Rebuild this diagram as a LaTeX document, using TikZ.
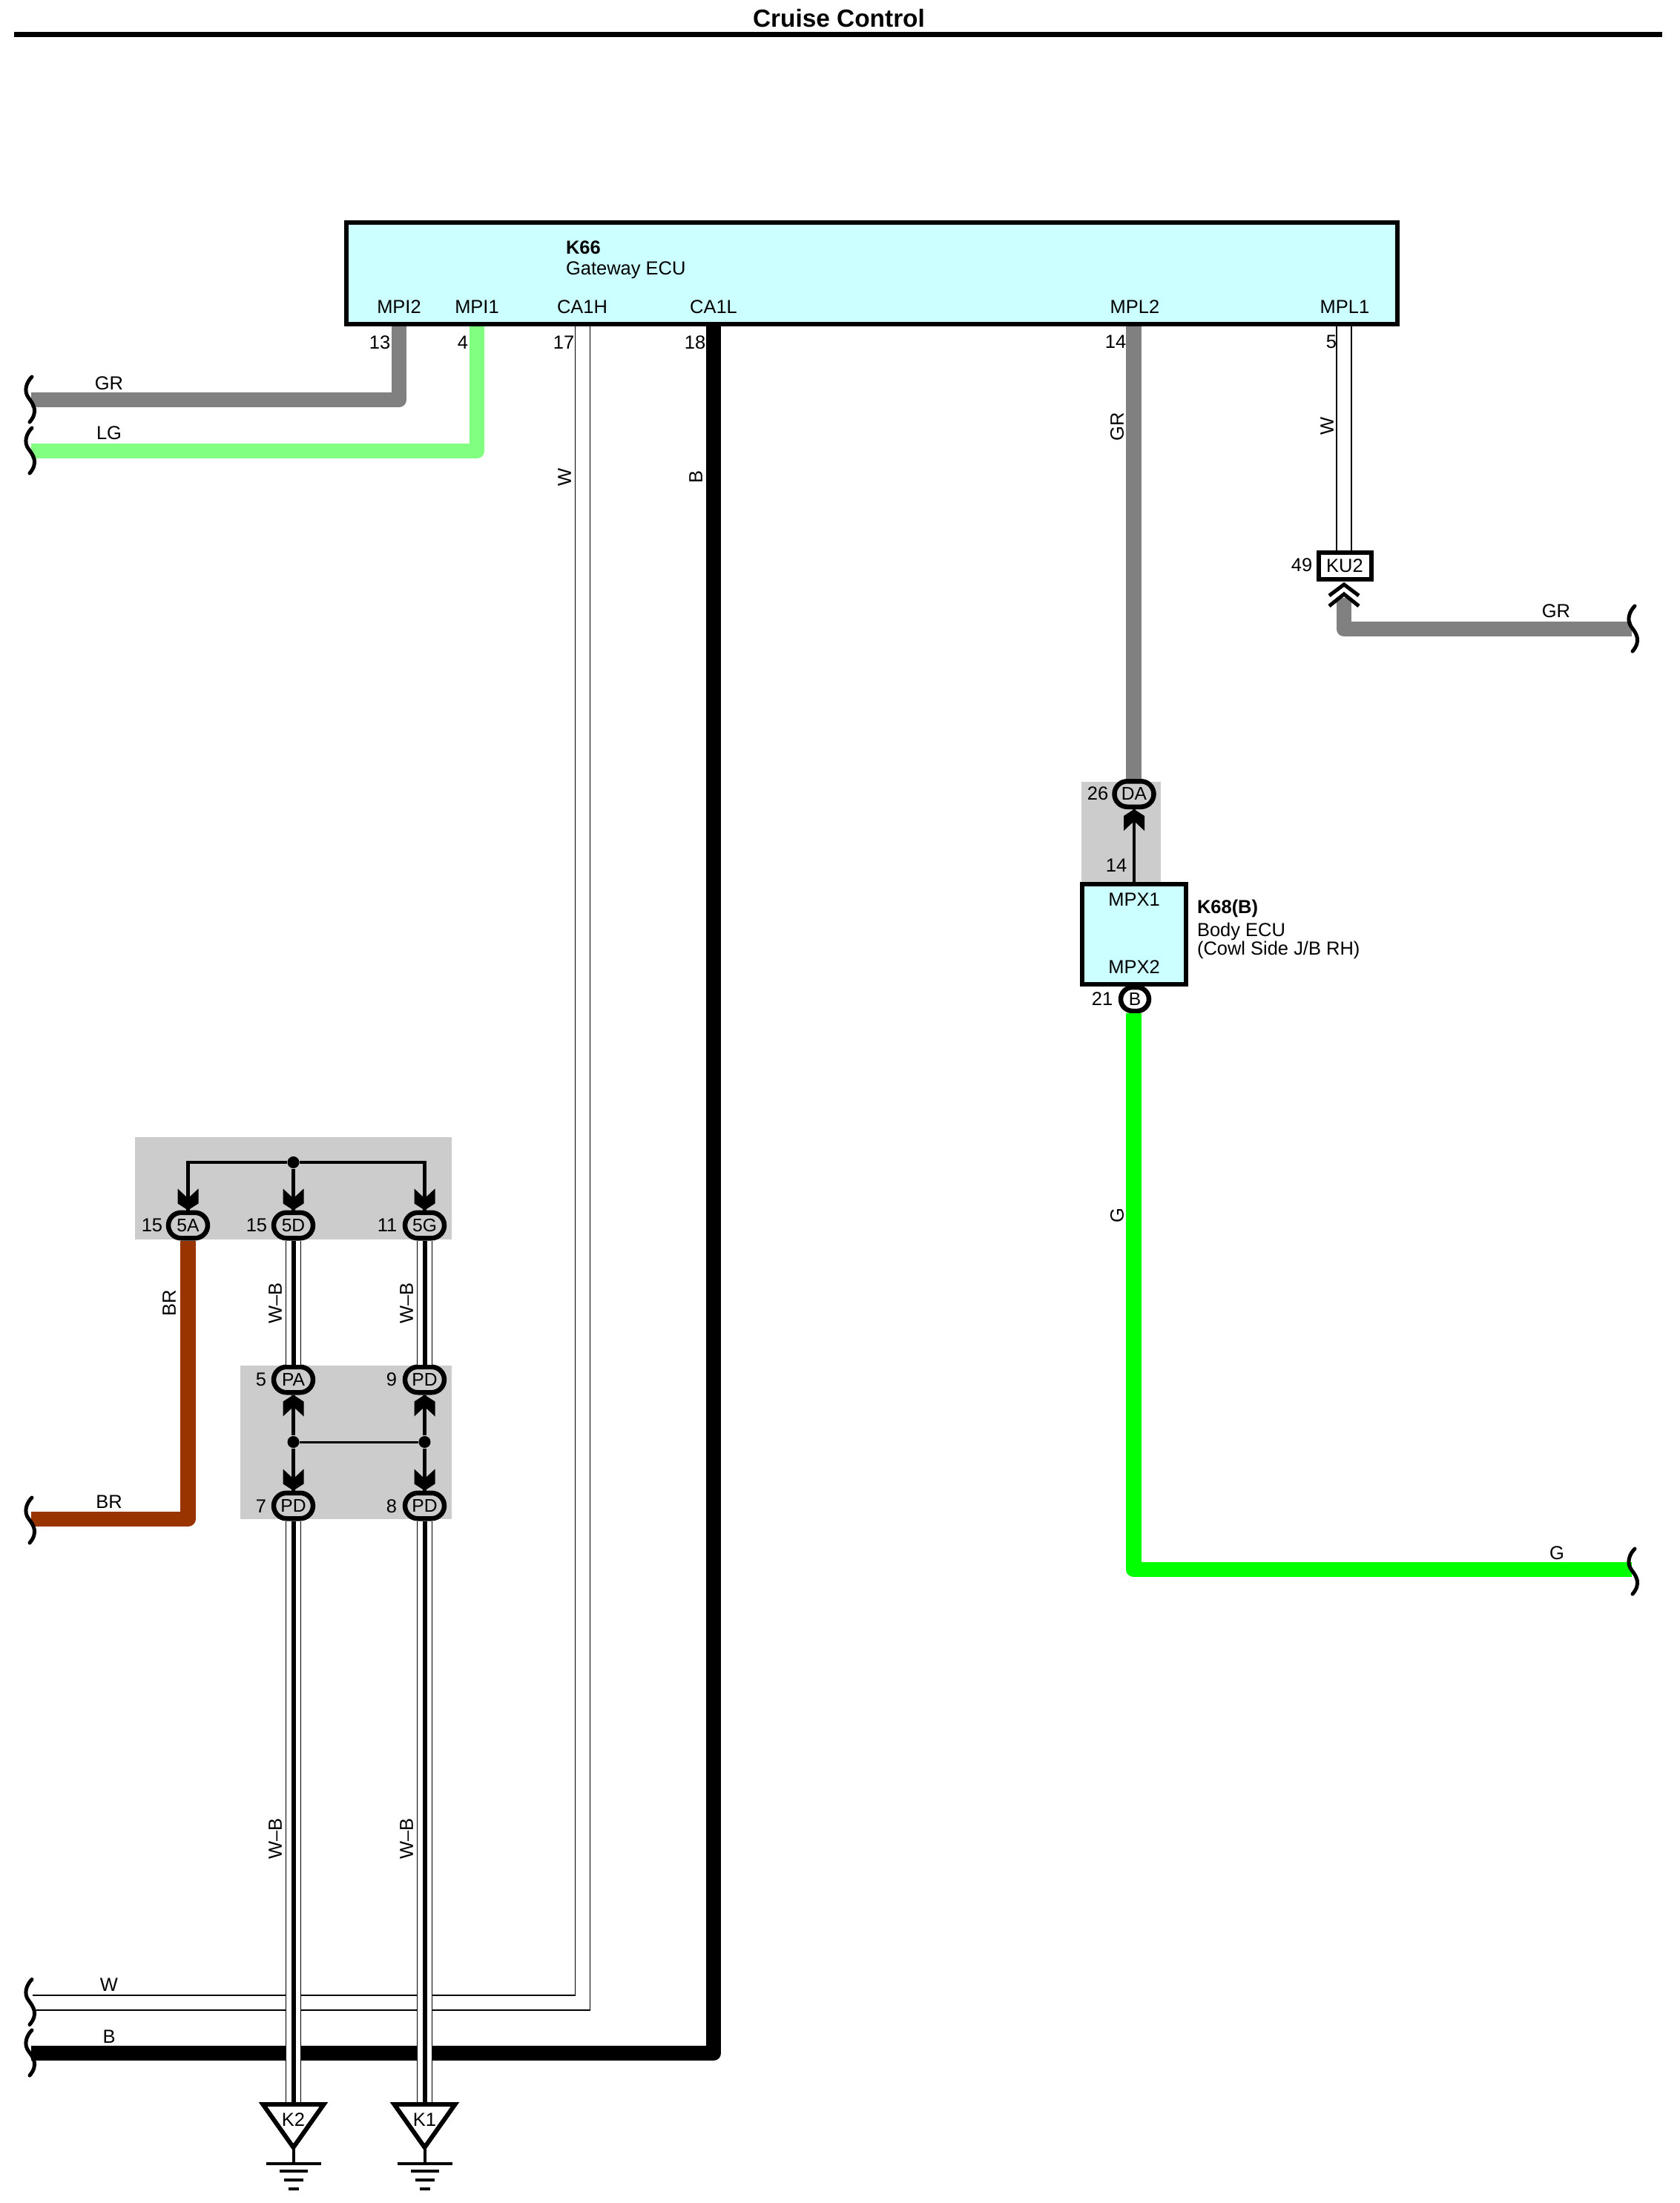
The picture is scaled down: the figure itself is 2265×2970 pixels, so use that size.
\documentclass[tikz,border=0pt]{standalone}
\usepackage{fontspec}
\setmainfont{Liberation Sans}
\usetikzlibrary{positioning, shapes.misc}

\definecolor{ecucyan}{HTML}{CCFFFF}
\definecolor{spliceback}{HTML}{CCCCCC}
\definecolor{wiregray}{HTML}{808080}
\definecolor{wirelime}{HTML}{80FF80}
\definecolor{wiregreen}{HTML}{00FF00}
\definecolor{wirebrown}{HTML}{993300}

\tikzset{
	smalltext/.style={font=\fontsize{7.25}{8.5}\selectfont, inner sep=0pt, outer sep=0pt},
	boldtext/.style={smalltext, font=\fontsize{7.25}{8.5}\selectfont\bfseries},
	sidelabel/.style={smalltext, rotate=90},
	ecubox/.style={draw, fill=ecucyan, line width=0.6mm, inner sep=0pt},
	oval/.style={rounded rectangle, draw, line width=0.65mm, minimum width=5.3mm, minimum height=3.45mm, inner sep=0pt, font=\fontsize{7}{8.5}\selectfont},
	splice/.style={fill=spliceback},
	thickwire/.style={line width=2.05mm, line join=round},
	plainwire/.style={draw=black, line width=0.15mm, double=white, double distance=1.85mm},
	stripewire/.style={plainwire, postaction={draw=black, double=none, line width=0.6mm}},
	busline/.style={line width=0.45mm},
	busthin/.style={line width=0.3mm},
	juncdot/.style={circle, fill=black, minimum size=1.6mm, inner sep=0pt},
	% the pointed tip, apex at the origin
	chevtip/.pic={\fill (0,0) -- (-14,-9) -- (-14,-29) -- (0,-16) -- (14,-29) -- (14,-9) -- cycle;},
	% wavy mark on a cut wire
	wirebreak/.pic={\draw[line width=0.5mm, line cap=round] (1,-31) .. controls (-6,-24) and (-11,-12) .. (-3,-2) .. controls (3,6) and (10,16) .. (-2,30);},
	gndmark/.pic={
		\draw[fill=white, line width=0.6mm] (-41,0) -- (41,0) -- (0,58) -- cycle;
		\coordinate (-top) at (0,-3);
		\node[smalltext] (-lbl) at (0,21) {#1};
		\draw[line width=0.4mm] (0,58) -- (0,80);
		\draw[line width=0.45mm] (-37,80) -- (37,80);
		\draw[line width=0.45mm] (-19,90) -- (19,90);
		\draw[line width=0.45mm] (-13,102) -- (13,102);
		\draw[line width=0.45mm] (-7,114) -- (7,114);
	},
}

\begin{document}
\begin{tikzpicture}[x=0.1mm,y=-0.1mm]
	\useasboundingbox (0,0) rectangle (2265,2970);

	% Title and rule
	\node[font=\fontsize{9.5}{11}\selectfont\bfseries, inner sep=0pt] (title) at (1131,25) {Cruise Control};
	\coordinate (ruleleft) at (19,46.5);
	\coordinate (ruleright) at (2241,46.5);
	\draw[line width=0.65mm] (ruleleft) -- (ruleright);

	% Grey splice backgrounds
	\fill[splice] (1458,1054) rectangle (1565,1189);
	\fill[splice] (182,1533) rectangle (609,1671);
	\fill[splice] (324,1841) rectangle (609,2048);

	% ECU boxes
	\node[ecubox, minimum width=141.7mm, minimum height=13.7mm] (k66) at (1175.5,368.5) {};
	\node[ecubox, minimum width=14mm, minimum height=13.5mm] (k68) at (1529,1259.5) {};
	\node[boldtext, anchor=base west] (k66name) at (763,342) {K66};
	\node[smalltext, anchor=base west] (k66desc) at (763,370) {Gateway ECU};
	\node[boldtext, anchor=base west] (k68name) at (1614,1231) {K68(B)};
	\node[smalltext, anchor=base west] (k68desc) at (1614,1262) {Body ECU};
	\node[smalltext, anchor=base west] (k68place) at (1614,1287) {(Cowl Side J/B RH)};

	% Terminal names
	\node[smalltext, anchor=base] (mpi2) at (538,422) {MPI2};
	\node[smalltext, anchor=base] (mpi1) at (643,422) {MPI1};
	\node[smalltext, anchor=base] (ca1h) at (785,422) {CA1H};
	\node[smalltext, anchor=base] (ca1l) at (962,422) {CA1L};
	\node[smalltext, anchor=base] (mpl2) at (1530,422) {MPL2};
	\node[smalltext, anchor=base] (mpl1) at (1813,422) {MPL1};
	\node[smalltext, anchor=base] (mpx1) at (1529,1221) {MPX1};
	\node[smalltext, anchor=base] (mpx2) at (1529,1312) {MPX2};

	% Pin numbers
	\node[smalltext] (n13) at (512,462) {13};
	\node[smalltext] (n4) at (624,462) {4};
	\node[smalltext] (n17) at (760,462) {17};
	\node[smalltext] (n18) at (937,462) {18};
	\node[smalltext] (n14) at (1504,461) {14};
	\node[smalltext] (n5) at (1795,461) {5};
	\node[smalltext] (n49) at (1755,762) {49};
	\node[smalltext] (n26) at (1480,1070) {26};
	\node[smalltext] (n14b) at (1505,1167) {14};
	\node[smalltext] (n21) at (1486,1347) {21};
	\node[smalltext] (n15a) at (205,1652) {15};
	\node[smalltext] (n15d) at (346,1652) {15};
	\node[smalltext] (n11) at (522,1652) {11};
	\node[smalltext] (n5b) at (352,1860) {5};
	\node[smalltext] (n9) at (528,1860) {9};
	\node[smalltext] (n7) at (352,2031) {7};
	\node[smalltext] (n8) at (528,2031) {8};

	% Connectors
	\node[draw, fill=white, line width=0.6mm, minimum width=7.1mm, minimum height=3.6mm, inner sep=0pt, font=\fontsize{7.25}{8.5}\selectfont] (ku2) at (1813,762.5) {KU2};
	\node[oval] (da) at (1529,1070.5) {DA};
	\node[oval, fill=white, minimum width=3.8mm, minimum height=3.2mm] (cb) at (1530,1347) {B};
	\node[oval] (c5a) at (253.5,1652) {5A};
	\node[oval] (c5d) at (395.5,1652) {5D};
	\node[oval] (c5g) at (572.5,1652) {5G};
	\node[oval] (pa) at (395.5,1860) {PA};
	\node[oval] (pdtop) at (572.5,1860) {PD};
	\node[oval] (pdl) at (395.5,2030) {PD};
	\node[oval] (pdr) at (572.5,2030) {PD};

	% Earth points
	\pic (k2) at (395.5,2837) {gndmark=K2};
	\pic (k1) at (572.5,2837) {gndmark=K1};

	% Named wire ends
	\coordinate (pin13) at (538,440);
	\coordinate (pin4) at (643,440);
	\coordinate (pin17) at (785.5,440);
	\coordinate (pin18) at (962,440);
	\coordinate (pin14) at (1528.5,440);
	\coordinate (pin5) at (1812,440);
	\coordinate (cutgr) at (42,539);
	\coordinate (cutlg) at (42,608);
	\coordinate (cutbr) at (42,2048);
	\coordinate (cutw) at (44,2700);
	\coordinate (cutb) at (42,2768);
	\coordinate (cutgrr) at (2200,848);
	\coordinate (cutg) at (2200,2116);
	\coordinate (ku2in) at (1812,806);

	% Draw the wires
	\draw[thickwire, wiregray] (pin13) |- (cutgr);
	\draw[thickwire, wirelime] (pin4) |- (cutlg);
	\draw[plainwire] (pin17) |- (cutw);
	\draw[thickwire, black] (pin18) |- (cutb);
	\draw[thickwire, wiregray] (pin14) -- (da.north -| pin14);
	\draw[plainwire] (pin5) -- (ku2.north -| pin5);
	\draw[thickwire, wiregray] (ku2in) |- (cutgrr);
	\draw[thickwire, wiregreen] (cb.south -| pin14) |- (cutg);
	\draw[thickwire, wirebrown] (c5a.south) |- (cutbr);
	\draw[stripewire] (c5d.south) -- (pa.north);
	\draw[stripewire] (c5g.south) -- (pdtop.north);
	\draw[stripewire] (pdl.south) -- (k2-top);
	\draw[stripewire] (pdr.south) -- (k1-top);

	% Cut marks
	\pic at (cutgr) {wirebreak};
	\pic at (cutlg) {wirebreak};
	\pic at (42,2050) {wirebreak};
	\pic at (42,2699.5) {wirebreak};
	\pic at (cutb) {wirebreak};
	\pic at (2203,848) {wirebreak};
	\pic at (2203,2119) {wirebreak};

	% Double mark under KU2
	\draw[line width=0.5mm] (1792,803) -- (1812,788) -- (1832,803);
	\draw[line width=0.5mm] (1792,817) -- (1812,801) -- (1832,817);

	% Splices
	\node[juncdot] (junctop) at (395.5,1567) {};
	\node[juncdot] (juncl) at (395.5,1944) {};
	\node[juncdot] (juncr) at (572.5,1944) {};
	\draw[busline] (junctop) -| (c5a.north);
	\draw[busline] (junctop) -| (c5g.north);
	\draw[busline] (junctop) -- (c5d.north);
	\draw[busthin] (juncl) -- (juncr);
	\draw[busline] (juncl) -- (pa.south);
	\draw[busline] (juncr) -- (pdtop.south);
	\draw[busline] (juncl) -- (pdl.north);
	\draw[busline] (juncr) -- (pdr.north);
	\draw[busline] (k68.north) -- (da.south);

	% Arrow tips
	\pic at (c5a.north) {chevtip};
	\pic at (c5d.north) {chevtip};
	\pic at (c5g.north) {chevtip};
	\pic at (pdl.north) {chevtip};
	\pic at (pdr.north) {chevtip};
	\pic[rotate=180] at (pa.south) {chevtip};
	\pic[rotate=180] at (pdtop.south) {chevtip};
	\pic[rotate=180] at (da.south) {chevtip};

	% Wire colours
	\node[smalltext] (lblgr) at (147,517) {GR};
	\node[smalltext] (lbllg) at (147,584) {LG};
	\node[smalltext] (lblbr) at (147,2025) {BR};
	\node[smalltext] (lblw) at (147,2676) {W};
	\node[smalltext] (lblb) at (147,2746) {B};
	\node[smalltext] (lblgrr) at (2098,824) {GR};
	\node[smalltext] (lblg) at (2099,2094) {G};
	\node[sidelabel] (sidew) at (761,643) {W};
	\node[sidelabel] (sideb) at (938,643) {B};
	\node[sidelabel] (sidegr) at (1506,575) {GR};
	\node[sidelabel] (sidewr) at (1789,574) {W};
	\node[sidelabel] (sideg) at (1506,1639) {G};
	\node[sidelabel] (sidebr) at (228,1757) {BR};
	\node[sidelabel] (sidewb) at (371,1757) {W--B};
	\node[sidelabel] (sidewbb) at (548,1757) {W--B};
	\node[sidelabel] (sidewbc) at (371,2479) {W--B};
	\node[sidelabel] (sidewbd) at (548,2479) {W--B};
\end{tikzpicture}
\end{document}
